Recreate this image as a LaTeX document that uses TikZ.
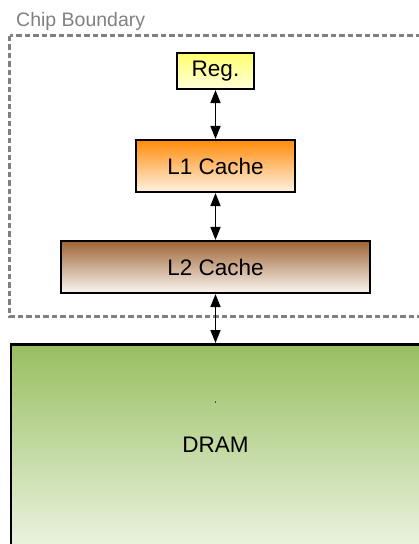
\documentclass[tikz,border=0pt]{standalone}
\usepackage{fontspec}
\setmainfont{Liberation Sans}
\usetikzlibrary{arrows.meta}

\definecolor{boundgray}{RGB}{128,128,128}
\definecolor{regtop}{RGB}{255,255,110}
\definecolor{regbot}{RGB}{255,255,220}
\definecolor{lonetop}{RGB}{255,140,10}
\definecolor{lonebot}{RGB}{255,242,228}
\definecolor{ltwotop}{RGB}{158,100,52}
\definecolor{ltwobot}{RGB}{250,246,242}
\definecolor{dramtop}{RGB}{152,190,96}
\definecolor{drambot}{RGB}{255,255,255}

\tikzset{
  level/.style={draw=black, line width=2.1pt, inner sep=0pt,
    font=\fontsize{22.5}{26}\selectfont},
  link/.style={line width=1.6pt, {Triangle[length=13pt,width=10pt]}-{Triangle[length=13pt,width=10pt]}},
  boundary/.style={draw=boundgray, line width=3pt, dash pattern=on 5.5pt off 3pt},
}

\begin{document}
\begin{tikzpicture}[x=1pt,y=-1pt]
\useasboundingbox (0,0) rectangle (419,544);
\clip (0,0) rectangle (419,544);

% on-chip region
\draw[boundary] (9.5,35.5) rectangle (440,316.5);
\node[anchor=base west, text=boundgray, inner sep=0pt,
      font=\fontsize{19.5}{23}\selectfont] (chiplabel) at (16,26.5) {Chip Boundary};

% memory hierarchy levels
\node[level, top color=regtop, bottom color=regbot,
      minimum width=77pt, minimum height=36pt] (reg) at (215.5,71) {Reg.};
\node[level, top color=lonetop, bottom color=lonebot,
      minimum width=159pt, minimum height=52pt] (lone) at (215.5,166) {L1 Cache};
\node[level, top color=ltwotop, bottom color=ltwobot,
      minimum width=309pt, minimum height=52pt] (ltwo) at (215.5,267) {L2 Cache};

% off-chip memory
\node[draw=black, line width=2.8pt, top color=dramtop, bottom color=drambot,
      anchor=north west, minimum width=440pt, minimum height=250pt,
      inner sep=0pt] (dram) at (9.5,343) {};
\node[font=\fontsize{22.5}{26}\selectfont, inner sep=0pt] (dramlabel) at (215.5,445) {DRAM};
\fill[black!70] (214.6,400.5) rectangle (215.6,403);

% data paths between levels
\draw[link] (reg.south) -- (lone.north);
\draw[link] (lone.south) -- (ltwo.north);
\draw[link] (ltwo.south) -- (ltwo.south |- dram.north);
\end{tikzpicture}
\end{document}
